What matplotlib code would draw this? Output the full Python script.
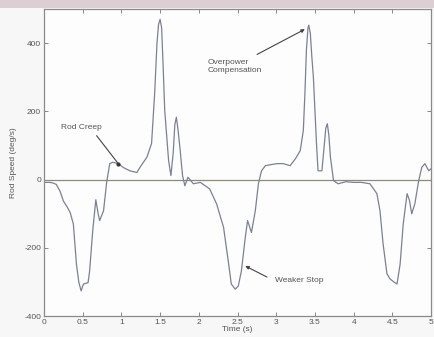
import matplotlib
matplotlib.use("Agg")
import matplotlib.pyplot as plt

time_s = [0.00, 0.08, 0.12, 0.16, 0.21, 0.25, 0.30, 0.34, 0.38, 0.42, 0.45, 0.48, 0.51, 0.54,
          0.57, 0.59, 0.63, 0.67, 0.70, 0.72, 0.77, 0.81, 0.85, 0.89, 0.96, 1.03, 1.11,
          1.20, 1.24, 1.33, 1.39, 1.43, 1.46, 1.48, 1.50, 1.52, 1.54, 1.56, 1.61, 1.64,
          1.67, 1.69, 1.71, 1.73, 1.76, 1.79, 1.82, 1.86, 1.93, 2.02, 2.14, 2.23, 2.32,
          2.38, 2.42, 2.47, 2.51, 2.55, 2.60, 2.63, 2.68, 2.73, 2.77, 2.81, 2.86, 2.93,
          3.01, 3.09, 3.18, 3.25, 3.31, 3.35, 3.37, 3.39, 3.41, 3.42, 3.44, 3.46, 3.48,
          3.52, 3.54, 3.59, 3.62, 3.64, 3.66, 3.68, 3.70, 3.74, 3.80, 3.90, 4.00, 4.10,
          4.21, 4.30, 4.34, 4.38, 4.43, 4.47, 4.52, 4.56, 4.60, 4.64, 4.69, 4.72, 4.75,
          4.79, 4.84, 4.88, 4.92, 4.97, 5.00]
rod_speed = [-8, -8, -10, -14, -35, -62, -80, -97, -130, -248, -300, -326, -306, -304,
             -302, -268, -150, -59, -100, -120, -91, -8, 47, 51, 47, 35, 26,
             21, 36, 66, 106, 253, 400, 455, 470, 445, 330, 203, 56, 12,
             80, 160, 183, 150, 85, 12, -18, 7, -12, -8, -27, -71, -140,
             -238, -306, -321, -312, -268, -170, -120, -155, -91, -12, 26, 41, 44,
             47, 47, 41, 62, 85, 144, 250, 380, 445, 453, 430, 360, 300,
             106, 26, 26, 100, 150, 164, 130, 66, -3, -12, -6, -8, -8,
             -12, -41, -91, -188, -276, -291, -300, -306, -248, -130, -41, -60, -100,
             -71, -3, 36, 47, 26, 32]

x_ticks = [0, 0.5, 1, 1.5, 2, 2.5, 3, 3.5, 4, 4.5, 5]
x_tick_labels = ["0", "0.5", "1", "1.5", "2", "2.5", "3", "3.5", "4", "4.5", "5"]
y_ticks = [-400, -200, 0, 200, 400]
y_tick_labels = ["-400", "-200", "0", "200", "400"]

plt.rcParams['font.family'] = ['Liberation Sans', 'DejaVu Sans']

fig = plt.figure(figsize=(4.35, 3.37), dpi=100, facecolor='#f7f7f7')
fig.patches.append(plt.Rectangle((0, 0.975), 1, 0.025, transform=fig.transFigure,
                                 facecolor='#dccfd3', edgecolor='none', zorder=-1))
ax = fig.add_axes([0.101, 0.062, 0.890, 0.911])
ax.set_facecolor('#fdfdfd')

ax.axhline(0, color='#8c8c78', lw=0.9)
ax.plot(time_s, rod_speed, color='#7c8097', lw=0.9)

ax.set_xlim(0, 5)
ax.set_ylim(-400, 500)
ax.set_xticks(x_ticks)
ax.set_xticklabels(x_tick_labels)
ax.set_yticks(y_ticks)
ax.set_yticklabels(y_tick_labels)
ax.tick_params(direction='in', length=3, width=0.7, colors='#888888', labelcolor='#555555',
               labelsize=6, top=True, right=True, pad=2)
for s in ax.spines.values():
    s.set_color('#8a8a8a')
    s.set_linewidth(0.9)

ax.set_xlabel('Time (s)', fontsize=6, color='#555555', labelpad=0)
ax.set_ylabel('Rod Speed (deg/s)', fontsize=6, color='#555555', labelpad=5)

arrow = dict(arrowstyle='-|>', color='#444444', lw=0.8, mutation_scale=5, shrinkA=0, shrinkB=0)
ax.text(0.22, 153, 'Rod Creep', fontsize=6, color='#555555', va='center', ha='left')
ax.annotate('', xy=(0.96, 47), xytext=(0.68, 129),
            arrowprops=dict(arrowstyle='-', color='#444444', lw=0.8, shrinkA=0, shrinkB=0))
ax.plot([0.96], [47], 'o', color='#333333', ms=2)
ax.annotate('Overpower\nCompensation', xy=(3.37, 441), xytext=(2.11, 332), fontsize=6,
            color='#555555', va='center', ha='left', linespacing=1.1,
            arrowprops=dict(arrow, relpos=(0.75, 1.0), shrinkA=3))
ax.annotate('Weaker Stop', xy=(2.60, -253), xytext=(2.98, -297), fontsize=6,
            color='#555555', va='center', ha='left',
            arrowprops=dict(arrow, relpos=(0, 0.5), shrinkA=4))

fig.savefig('out.png', dpi=100, facecolor=fig.get_facecolor())
